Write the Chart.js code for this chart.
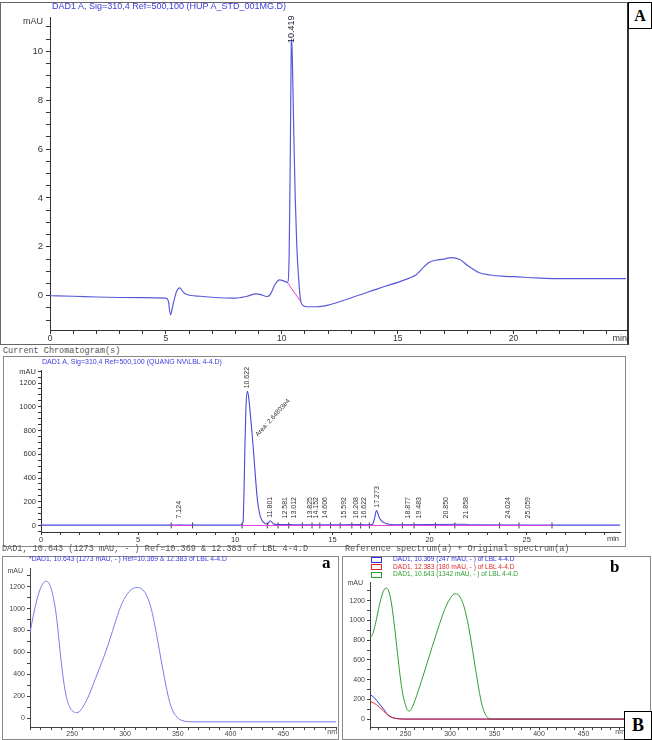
<!DOCTYPE html>
<html><head><meta charset="utf-8">
<script src="https://cdn.jsdelivr.net/npm/chart.js@4.4.0/dist/chart.umd.min.js"></script>
<style>
body{margin:0;background:#fff;width:652px;height:740px;position:relative;overflow:hidden;font-family:"Liberation Sans",Arial,sans-serif;}
canvas{position:absolute;}
.t{position:absolute;white-space:nowrap;line-height:1;}
.frame{position:absolute;box-sizing:border-box;border:1px solid #888;}
.mono{font-family:"Liberation Mono","DejaVu Sans Mono",monospace;font-size:8.5px;color:#555;}
.blue{color:#3b3be0;}
.big{font-family:"Liberation Serif","Times New Roman",serif;font-weight:bold;color:#000;}
.box{position:absolute;box-sizing:border-box;border:1.5px solid #000;background:#fff;display:flex;align-items:center;justify-content:center;z-index:5;}
.sq{position:absolute;width:11px;height:6px;box-sizing:border-box;border:1px solid;}
</style></head><body>

<div class="frame" style="left:0;top:2px;width:629px;height:343px;border-color:#666;border-right:2px solid #333;"></div>
<div class="frame" style="left:3px;top:356px;width:623px;height:191px;"></div>
<div class="frame" style="left:2px;top:556px;width:337px;height:184px;"></div>
<div class="frame" style="left:342px;top:556px;width:309px;height:184px;"></div>

<canvas id="cTop"></canvas>
<canvas id="cMid"></canvas>
<canvas id="cA"></canvas>
<canvas id="cB"></canvas>

<div class="t blue" style="left:52px;top:2px;font-size:9px;">DAD1 A, Sig=310,4 Ref=500,100 (HUP A_STD_001MG.D)</div>
<div class="box big" style="left:628px;top:2px;width:24px;height:27px;font-size:16px;">A</div>
<div class="t mono" style="left:3px;top:347px;">Current Chromatogram(s)</div>
<div class="t blue" style="left:42px;top:358px;font-size:7px;">DAD1 A, Sig=310,4 Ref=500,100 (QUANG NV\LBL 4-4.D)</div>
<div class="t mono" style="left:2px;top:545px;">DAD1, 10.643 (1273 mAU, - ) Ref=10.369 &amp; 12.383 of LBL 4-4.D</div>
<div class="t mono" style="left:345px;top:545px;">Reference spectrum(a) + Original spectrum(a)</div>
<div class="t blue" style="left:29px;top:556px;font-size:6.8px;">*DAD1, 10.643 (1273 mAU, - ) Ref=10.369 &amp; 12.383 of LBL 4-4.D</div>
<div class="t big" style="left:322px;top:554px;font-size:17px;">a</div>
<div class="t big" style="left:610px;top:558px;font-size:17px;">b</div>
<div id="legendB"></div>
<div class="box big" style="left:624px;top:711px;width:28px;height:29px;font-size:18px;">B</div>

<script>
// ---------- data ----------
// Panel A: standard chromatogram (min, mAU)
const topTime = [0,1,2,3,4,5,5.1,5.2,5.3,5.45,5.6,5.75,5.9,6.5,7,8,8.5,8.9,9.1,9.35,9.5,9.7,9.9,10.1,10.25,10.32,10.37,10.41,10.43,10.47,10.52,10.58,10.65,10.72,10.8,10.9,11.1,11.5,12,13,14,14.5,15,15.5,15.8,16.1,16.3,16.5,17,17.3,17.7,18,18.5,19,19.5,20,21,22,23,24,24.85];
const topSignal = [0,-0.02,-0.05,-0.07,-0.08,-0.1,-0.2,-0.78,-0.4,0.15,0.32,0.15,0.05,-0.02,-0.06,-0.1,-0.02,0.08,0.05,-0.03,0.05,0.45,0.65,0.6,0.55,1.8,6,10.4,10.5,9,6.5,4,2,0.8,-0.1,-0.38,-0.45,-0.45,-0.38,-0.08,0.24,0.4,0.55,0.72,0.86,1.15,1.33,1.42,1.5,1.56,1.47,1.25,0.95,0.85,0.8,0.78,0.73,0.7,0.7,0.7,0.7];
const topBaseTime = [10.25, 10.82];
const topBaseSignal = [0.53, -0.24];
const topPeakTimes = [10.419];
const topPeakHeights = [10.5];
const topPeakLabels = ['10.419'];
const topXLabels = [0,5,10,15,20];
const topYLabels = [0,2,4,6,8,10];

// Current chromatogram (min, mAU)
const midTime = [0,7.0,7.12,7.3,10.3,10.4,10.45,10.5,10.55,10.62,10.68,10.75,10.85,10.95,11.05,11.15,11.3,11.5,11.65,11.8,11.95,12.2,12.58,13.0,14,15,16.2,16.6,17.05,17.15,17.27,17.4,17.55,17.8,18.2,21.86,22,26,29.8];
const midSignal = [3,3,6,3,3,30,300,700,1000,1130,1090,980,800,600,380,200,70,20,12,40,15,8,8,6,5,5,8,6,8,50,125,70,35,15,6,10,5,3,3];
const midBaseTime = [6.7,7.8,7.8,10.35,26.3];
const midBaseSignal = [0,0,null,0,0];
const midMarks = [6.7,7.8,10.35,11.65,12.2,12.75,13.45,13.95,14.35,14.9,15.4,16.0,16.45,16.9,18.6,19.2,20.3,21.3,23.6,24.6,26.3];
const midPeakTimes = [7.124,10.622,11.801,12.581,13.012,13.825,14.152,14.606,15.592,16.208,16.622,17.273,18.877,19.483,20.850,21.858,24.024,25.059];
const midPeakHeights = [6,1130,40,8,6,5,5,5,5,8,6,125,5,5,5,10,5,5];
const midPeakLabels = ['7.124','10.622','11.801','12.581','13.012','13.825','14.152','14.606','15.592','16.208','16.622','17.273','18.877','19.483','20.850','21.858','24.024','25.059'];
const midAreaLabel = 'Area: 2.64803e4';
const midXLabels = [0,5,10,15,20,25];
const midYLabels = [0,200,400,600,800,1000,1200];

// Spectrum a (nm, mAU)
const aNm = [210,213,216,219,222,225,228,231,234,236,238,240,242,244,246,248,250,252,254,257,260,264,268,272,276,280,284,288,292,296,300,304,308,312,316,320,324,327,330,333,336,339,342,345,348,351,354,358,365,400,450,500];
const aMau = [780,930,1060,1160,1225,1250,1230,1150,1000,850,660,480,330,215,140,95,68,55,50,62,100,170,260,360,460,560,670,790,910,1020,1100,1155,1185,1192,1178,1130,1030,910,760,600,440,290,160,75,25,-5,-20,-30,-33,-33,-33,-33];

// Spectrum b (nm, mAU)
const bNm = [210,213,216,219,222,225,228,231,234,237,240,243,246,249,252,254,256,258,261,264,268,272,276,280,284,288,292,296,300,303,306,309,312,315,318,321,324,327,330,333,336,339,342,346,352,500];
const bGreen = [820,860,960,1090,1210,1295,1330,1300,1180,980,740,500,300,170,95,82,95,130,200,280,390,505,620,735,850,960,1065,1155,1222,1258,1272,1262,1225,1160,1060,930,770,600,430,270,140,60,18,2,0,0];
const bRefNm = [210,215,220,225,230,235,240,245,250,260,500];
const bBlue = [250,215,160,105,45,18,6,2,0,0,0];
const bRed = [180,160,125,85,40,15,5,1,0,0,0];
const bLabels = ['DAD1, 10.369 (247 mAU, - ) of LBL 4-4.D','DAD1, 12.383 (180 mAU, - ) of LBL 4-4.D','DAD1, 10.643 (1342 mAU, - ) of LBL 4-4.D'];
const bColors = ['#3030e0','#e02828','#2e9e2e'];
const specXLabels = [250,300,350,400,450];
const specYLabels = [0,200,400,600,800,1000,1200];

// ---------- helpers ----------
const FONT = '"Liberation Sans", Arial, sans-serif';
const pts = (xs, ys) => xs.map((v, i) => ({x: v, y: ys[i]}));
const range = (a, b, s) => { const r = []; for (let i = 0; a + i * s <= b + 1e-9; i++) r.push(+(a + i * s).toFixed(6)); return r; };

function axis(kind, s) {
  return {
    type: 'linear', min: s.min, max: s.max,
    afterFit: sc => { if (kind === 'x') sc.height = s.size; else sc.width = s.size; },
    afterBuildTicks: sc => { sc.ticks = s.ticks.map(v => ({value: v})); },
    grid: {drawOnChartArea: false, drawTicks: true, tickLength: s.tickLen, color: s.color, tickColor: s.color, tickWidth: 1},
    border: {display: true, color: s.color, width: 1},
    ticks: {autoSkip: false, maxRotation: 0, minRotation: 0, padding: s.pad, color: s.color,
      font: {family: FONT, size: s.font},
      callback: v => s.labels.includes(v) ? String(v) : ''}
  };
}

function overlay(key, o) {
  return {id: 'ov' + key, afterDatasetsDraw(chart) {
    const {ctx, chartArea: a, scales: {x, y}} = chart;
    ctx.save();
    ctx.fillStyle = o.color;
    ctx.font = o.unitFont + 'px ' + FONT;
    ctx.textAlign = 'right'; ctx.textBaseline = 'middle';
    ctx.fillText('mAU', a.left - o.yGap, a.top + o.yDy);
    ctx.textBaseline = 'top';
    ctx.fillText(o.xUnit, a.right + o.xDx, a.bottom + o.xDy);
    if (o.peakTimes) {
      const base = y.getPixelForValue(0);
      o.peakTimes.forEach((t, i) => {
        const px = x.getPixelForValue(t);
        const pk = y.getPixelForValue(o.peakHeights[i]);
        const yb = Math.min(pk - o.peakGap, base - o.baseGap);
        ctx.save(); ctx.translate(px, yb); ctx.rotate(-Math.PI / 2);
        ctx.textAlign = 'left'; ctx.textBaseline = 'middle';
        ctx.font = o.peakFont + 'px ' + FONT; ctx.fillStyle = o.peakColor;
        ctx.fillText(o.peakLabels[i], 0, 0); ctx.restore();
      });
      if (o.areaLabel) {
        const i = o.areaIndex;
        const px = x.getPixelForValue(o.peakTimes[i] + 0.48);
        const py = y.getPixelForValue(o.peakHeights[i] * 0.67);
        ctx.save(); ctx.translate(px, py); ctx.rotate(-48 * Math.PI / 180);
        ctx.textAlign = 'left'; ctx.textBaseline = 'middle';
        ctx.font = '6.5px ' + FONT; ctx.fillStyle = '#333';
        ctx.fillText(o.areaLabel, 0, 0); ctx.restore();
      }
    }
    ctx.restore();
  }};
}

function mk(id, cv, area, datasets, sx, sy, ov) {
  const c = document.getElementById(id);
  c.width = cv.w; c.height = cv.h;
  Object.assign(c.style, {left: cv.x + 'px', top: cv.y + 'px', width: cv.w + 'px', height: cv.h + 'px'});
  const padding = {left: area.l - cv.x - sy.size, right: cv.x + cv.w - area.r, top: area.t - cv.y, bottom: cv.y + cv.h - area.b - sx.size};
  return new Chart(c, {
    type: 'line', data: {datasets},
    options: {responsive: false, animation: false, devicePixelRatio: 1, parsing: true,
      layout: {padding},
      plugins: {legend: {display: false}, tooltip: {enabled: false}, title: {display: false}},
      elements: {point: {radius: 0}, line: {borderWidth: 1}},
      scales: {x: axis('x', sx), y: axis('y', sy)}},
    plugins: [overlay(id, ov)]
  });
}
const line = (data, color, w, extra) => Object.assign({data, borderColor: color, borderWidth: w || 1, pointRadius: 0, fill: false, cubicInterpolationMode: 'monotone', spanGaps: false}, extra || {});

// ---------- Panel A ----------
mk('cTop', {x: 0, y: 0, w: 628, h: 344}, {l: 50, t: 17, r: 626, b: 330},
  [line(pts(topBaseTime, topBaseSignal), '#e040e0', 1, {cubicInterpolationMode: 'default', tension: 0}),
   line(pts(topTime, topSignal), '#5a5ad8', 1.2)],
  {min: 0, max: 24.85, ticks: range(0, 24, 1), labels: topXLabels, size: 13, tickLen: 4, pad: 0, font: 8.5, color: '#333'},
  {min: -1.4, max: 11.4, ticks: range(-1, 11, 0.5), labels: topYLabels, size: 30, tickLen: 4, pad: 3, font: 9.5, color: '#333'},
  {color: '#333', unitFont: 9, yGap: 7, yDy: 5, xUnit: 'min', xDx: 1, xDy: 4,
   peakTimes: topPeakTimes, peakHeights: topPeakHeights, peakLabels: topPeakLabels, peakGap: -4, baseGap: 7, peakFont: 9, peakColor: '#223'});

// ---------- Current chromatogram ----------
mk('cMid', {x: 3, y: 356, w: 622, h: 190}, {l: 41, t: 370, r: 622, b: 532},
  [line(pts(midBaseTime, midBaseSignal), '#e040e0', 1, {cubicInterpolationMode: 'default', tension: 0}),
   {type: 'scatter', data: midMarks.map(t => ({x: t, y: 0})), pointStyle: 'line', rotation: 90, pointRadius: 3, borderColor: '#444', borderWidth: 1, showLine: false},
   line(pts(midTime, midSignal), '#4848dc', 1.1)],
  {min: 0, max: 29.8, ticks: range(0, 29, 1), labels: midXLabels, size: 11, tickLen: 3, pad: 0, font: 7.5, color: '#333'},
  {min: -55, max: 1310, ticks: range(-50, 1300, 50), labels: midYLabels, size: 24, tickLen: 3, pad: 2, font: 7.5, color: '#333'},
  {color: '#333', unitFont: 7.5, yGap: 5, yDy: 2, xUnit: 'min', xDx: -1, xDy: 3,
   peakTimes: midPeakTimes, peakHeights: midPeakHeights, peakLabels: midPeakLabels, peakGap: 3, baseGap: 7, peakFont: 7, peakColor: '#333',
   areaLabel: midAreaLabel, areaIndex: 1});

// ---------- Spectrum a ----------
mk('cA', {x: 2, y: 556, w: 336, h: 182}, {l: 30, t: 568, r: 336, b: 727},
  [line(pts(aNm, aMau), '#7b7be8', 1)],
  {min: 210, max: 500, ticks: range(210, 500, 10), labels: specXLabels, size: 11, tickLen: 3, pad: 0, font: 7, color: '#444'},
  {min: -80, max: 1370, ticks: range(0, 1300, 100), labels: specYLabels, size: 24, tickLen: 3, pad: 2, font: 7, color: '#444'},
  {color: '#444', unitFont: 7, yGap: 7, yDy: 3, xUnit: 'nm', xDx: 1, xDy: 2});

// ---------- Spectrum b ----------
mk('cB', {x: 343, y: 556, w: 307, h: 182}, {l: 370, t: 582, r: 628, b: 727},
  [line(pts(bRefNm, bRed), bColors[1], 1),
   line(pts(bRefNm, bBlue), bColors[0], 1),
   line(pts(bNm, bGreen), bColors[2], 1)],
  {min: 210, max: 500, ticks: range(210, 500, 10), labels: specXLabels, size: 11, tickLen: 3, pad: 0, font: 7, color: '#444'},
  {min: -80, max: 1390, ticks: range(0, 1300, 100), labels: specYLabels, size: 22, tickLen: 3, pad: 2, font: 7, color: '#444'},
  {color: '#444', unitFont: 7, yGap: 7, yDy: 1, xUnit: 'nm', xDx: -3, xDy: 2});

// legend for b
const lg = document.getElementById('legendB');
const rowsY = [556, 563.5, 571];
bLabels.forEach((txt, i) => {
  const sq = document.createElement('div');
  sq.className = 'sq'; sq.style.left = '371px'; sq.style.top = (rowsY[i] + 0.5) + 'px'; sq.style.borderColor = bColors[i];
  lg.appendChild(sq);
  const d = document.createElement('div');
  d.className = 't'; d.style.left = '393px'; d.style.top = rowsY[i] + 'px'; d.style.fontSize = '6.6px'; d.style.color = bColors[i];
  d.textContent = txt; lg.appendChild(d);
});
</script>
</body></html>
